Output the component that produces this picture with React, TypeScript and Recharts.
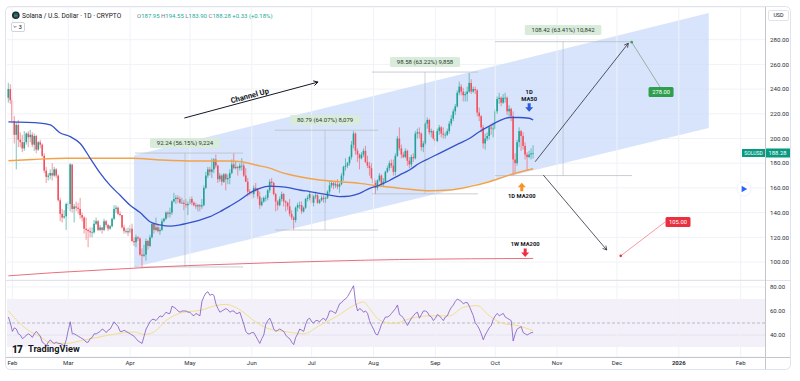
import {
  Area,
  Bar,
  CartesianGrid,
  ComposedChart,
  Line,
  ReferenceArea,
  ReferenceDot,
  ReferenceLine,
  XAxis,
  YAxis,
} from "recharts";

type Candle = [number, number, number, number]; // open, high, low, close

const FONT = "Roboto, 'Noto Sans', Arial, sans-serif";
const UP = "#22a195";
const DOWN = "#f0525f";

// day 0 = 1 Feb 2025; first candle is 30 Jan 2025
const firstDay = -2;

const janCandles: Candle[] = [
  [233, 245, 229, 240], [240, 244, 228, 231],
];
const febCandles: Candle[] = [
  [231, 233, 212, 214], [214, 218, 196, 203], [203, 213, 175, 211], [211, 215, 193, 199],
  [199, 205, 193, 197], [197, 203, 189, 192], [192, 206, 190, 197], [197, 205, 195, 204],
  [204, 206, 193, 201], [201, 207, 197, 203], [203, 205, 193, 195], [195, 204, 190, 202],
  [202, 203, 188, 191], [191, 198, 190, 197], [197, 199, 192, 195], [195, 196, 185, 186],
  [186, 188, 172, 174], [174, 177, 164, 169], [169, 172, 166, 170], [170, 175, 167, 172],
  [172, 180, 166, 170], [170, 177, 169, 175], [175, 176, 168, 170], [170, 171, 149, 150],
  [150, 152, 133, 139], [139, 143, 132, 136], [136, 142, 135, 137], [137, 148, 126, 147],
];
const marCandles: Candle[] = [
  [147, 149, 143, 147], [147, 180, 141, 179], [179, 179, 140, 143], [143, 147, 132, 145],
  [145, 149, 141, 144], [144, 148, 139, 143], [143, 152, 135, 138], [138, 140, 133, 136],
  [136, 137, 123, 127], [127, 136, 118, 126], [126, 127, 112, 125], [125, 128, 120, 124],
  [124, 128, 120, 124], [124, 134, 123, 131], [131, 136, 130, 133], [133, 134, 125, 126],
  [126, 130, 125, 128], [128, 128, 123, 126], [126, 135, 125, 133], [133, 134, 128, 130],
  [130, 131, 125, 127], [127, 130, 126, 129], [129, 136, 128, 135], [135, 146, 134, 143],
  [143, 146, 140, 144], [144, 145, 138, 139], [139, 141, 137, 138], [138, 138, 127, 128],
  [128, 130, 123, 125], [125, 127, 123, 125], [125, 128, 121, 124],
];
const aprCandles: Candle[] = [
  [124, 130, 123, 127], [127, 131, 116, 117], [117, 120, 113, 116], [116, 122, 112, 120],
  [120, 121, 117, 119], [119, 120, 105, 106], [106, 111, 95, 105], [105, 114, 104, 106],
  [106, 119, 101, 117], [117, 118, 110, 113], [113, 122, 112, 120], [120, 131, 119, 131],
  [131, 132, 123, 126], [126, 136, 125, 128], [128, 131, 124, 125], [125, 128, 122, 126],
  [126, 135, 125, 133], [133, 136, 132, 135], [135, 141, 134, 140], [140, 141, 136, 139],
  [139, 144, 136, 140], [140, 150, 138, 149], [149, 156, 148, 151], [151, 154, 147, 152],
  [152, 154, 148, 151], [151, 153, 147, 148], [148, 152, 147, 148], [148, 150, 142, 147],
  [147, 151, 144, 146], [146, 149, 138, 147],
];
const mayCandles: Candle[] = [
  [147, 153, 146, 151], [151, 153, 146, 148], [148, 149, 145, 146], [146, 148, 143, 145],
  [145, 147, 141, 146], [146, 147, 141, 145], [145, 151, 143, 146], [146, 162, 145, 160],
  [160, 173, 159, 170], [170, 177, 168, 175], [175, 177, 170, 173], [173, 184, 168, 175],
  [175, 184, 172, 183], [183, 187, 176, 178], [178, 179, 164, 167], [167, 172, 165, 170],
  [170, 171, 162, 165], [165, 172, 164, 171], [171, 172, 158, 167], [167, 171, 163, 168],
  [168, 175, 163, 172], [172, 183, 171, 179], [179, 188, 175, 176], [176, 181, 175, 177],
  [177, 178, 170, 176], [176, 180, 174, 178], [178, 184, 174, 178], [178, 180, 169, 170],
  [170, 176, 165, 165], [165, 168, 153, 157], [157, 159, 154, 156],
];
const junCandles: Candle[] = [
  [156, 157, 151, 155], [155, 162, 152, 160], [160, 164, 157, 158], [158, 160, 151, 153],
  [153, 157, 143, 146], [146, 152, 145, 149], [149, 153, 148, 152], [152, 154, 149, 152],
  [152, 159, 150, 158], [158, 167, 156, 165], [165, 168, 161, 164], [164, 165, 154, 155],
  [155, 156, 141, 149], [149, 150, 142, 146], [146, 153, 145, 151], [151, 157, 149, 155],
  [155, 156, 145, 149], [149, 150, 141, 148], [148, 149, 142, 145], [145, 151, 137, 139],
  [139, 142, 134, 136], [136, 137, 126, 134], [134, 145, 132, 144], [144, 148, 141, 146],
  [146, 149, 143, 146], [146, 149, 139, 141], [141, 145, 140, 144], [144, 152, 143, 151],
  [151, 154, 149, 152], [152, 157, 150, 155],
];
const julCandles: Candle[] = [
  [155, 156, 146, 148], [148, 154, 145, 153], [153, 157, 151, 154], [154, 155, 147, 148],
  [148, 151, 147, 150], [150, 154, 149, 152], [152, 154, 148, 151], [151, 153, 148, 152],
  [152, 158, 151, 157], [157, 166, 155, 162], [162, 166, 160, 164], [164, 165, 159, 162],
  [162, 165, 160, 163], [163, 167, 159, 161], [161, 164, 156, 163], [163, 172, 162, 170],
  [170, 178, 166, 177], [177, 184, 174, 178], [178, 181, 176, 180], [180, 186, 178, 185],
  [185, 198, 183, 195], [195, 206, 192, 204], [204, 205, 187, 190], [190, 192, 181, 187],
  [187, 188, 175, 184], [184, 189, 183, 187], [187, 192, 185, 190], [190, 194, 180, 181],
  [181, 186, 176, 178], [178, 181, 170, 176], [176, 180, 167, 168],
];
const augCandles: Candle[] = [
  [168, 170, 160, 164], [164, 166, 155, 160], [160, 167, 158, 166], [166, 172, 165, 170],
  [170, 171, 161, 163], [163, 168, 161, 165], [165, 174, 164, 173], [173, 178, 172, 176],
  [176, 182, 174, 180], [180, 183, 176, 178], [178, 183, 170, 173], [173, 188, 170, 186],
  [186, 202, 185, 200], [200, 209, 190, 192], [192, 195, 184, 187], [187, 189, 184, 185],
  [185, 192, 184, 190], [190, 191, 178, 182], [182, 185, 176, 179], [179, 187, 177, 185],
  [185, 188, 181, 184], [184, 206, 183, 204], [204, 208, 200, 205], [205, 209, 200, 204],
  [204, 205, 190, 193], [193, 198, 189, 196], [196, 213, 195, 212], [212, 217, 208, 215],
  [215, 216, 203, 205], [205, 208, 201, 206], [206, 207, 199, 200],
];
const sepCandles: Candle[] = [
  [200, 203, 194, 198], [198, 208, 197, 206], [206, 211, 203, 209], [209, 210, 201, 204],
  [204, 209, 200, 203], [203, 205, 200, 203], [203, 208, 202, 206], [206, 214, 204, 212],
  [212, 219, 210, 216], [216, 224, 214, 222], [222, 228, 219, 226], [226, 239, 225, 237],
  [237, 246, 235, 242], [242, 244, 235, 238], [238, 241, 230, 235], [235, 238, 230, 236],
  [236, 242, 230, 238], [238, 253, 237, 245], [245, 248, 236, 238], [238, 242, 237, 240],
  [240, 242, 236, 239], [239, 240, 218, 221], [221, 225, 214, 218], [218, 219, 205, 209],
  [209, 211, 192, 196], [196, 204, 191, 200], [200, 205, 198, 202], [202, 210, 199, 209],
  [209, 212, 203, 208], [208, 213, 201, 208],
];
const octCandles: Candle[] = [
  [208, 224, 207, 222], [222, 234, 220, 232], [232, 237, 228, 233], [233, 234, 226, 229],
  [229, 236, 228, 233], [233, 237, 229, 233], [233, 234, 219, 222], [222, 227, 218, 224],
  [224, 225, 214, 218], [218, 222, 170, 183], [183, 188, 171, 180], [180, 199, 178, 197],
  [197, 209, 193, 206], [206, 207, 190, 202], [202, 205, 191, 194], [194, 197, 183, 187],
  [187, 189, 174, 185], [185, 190, 184, 187], [187, 192, 183, 187.95], [187.95, 194.55, 183.9, 188.28],
];
const candleMonths = [janCandles, febCandles, marCandles, aprCandles, mayCandles, junCandles, julCandles, augCandles, sepCandles, octCandles];

// RSI(14), one value per candle
const rsiValues = [
  55, 50,
  43, 46, 45, 41, 40, 37, 38, 40, 41, 40, 38, 41, 43, 41, 39, 34, 33, 31, 34, 36, 34, 33, 34, 33, 33, 32, 31, 36,
  44, 51, 41, 41, 40, 39, 38, 37, 36, 34, 34, 37, 38, 41, 41, 42, 43, 45, 44, 42, 44, 45, 48, 51, 49, 47, 43, 43, 44, 43, 42,
  41, 40, 39, 37, 35, 34, 33, 39, 45, 48, 51, 53, 53, 52, 54, 56, 55, 57, 59, 58, 58, 64, 63, 62, 60, 59, 60, 60, 60, 59,
  59, 57, 56, 58, 57, 56, 68, 72, 75, 76, 73, 74, 73, 66, 62, 59, 60, 61, 62, 61, 59, 60, 60, 58, 58, 59, 54, 49, 43, 41, 41,
  42, 42, 39, 36, 33, 37, 40, 49, 52, 54, 50, 45, 43, 44, 45, 44, 43, 40, 38, 37, 34, 32, 38, 41, 45, 44, 43, 49, 53, 54,
  51, 50, 52, 52, 51, 53, 54, 52, 55, 60, 60, 59, 58, 62, 66, 67, 69, 70, 72, 75, 78, 81, 67, 60, 62, 61, 59, 60, 58, 52, 48,
  45, 41, 40, 44, 49, 52, 55, 55, 56, 58, 60, 62, 65, 57, 56, 54, 51, 48, 51, 54, 56, 58, 59, 54, 57, 60, 60, 59, 56, 55, 52,
  54, 57, 56, 54, 52, 55, 56, 60, 63, 65, 68, 70, 69, 68, 66, 67, 67, 64, 60, 56, 50, 48, 45, 41, 36, 40, 43, 46, 48, 53,
  56, 58, 56, 57, 58, 55, 54, 53, 52, 35, 41, 45, 46, 47, 42, 41, 40, 41, 42, 42,
];
const rsiMaDays = [-2, 7, 14, 19, 27, 35, 44, 52, 61, 66, 71, 77, 86, 94, 102, 107, 114, 121, 128, 138, 146, 154, 163, 171, 176, 179, 184, 191, 199, 209, 219, 226, 233, 239, 246, 253, 261];
const rsiMaValues = [60, 45, 38.5, 33.5, 33, 35.5, 38.5, 41, 42.5, 40.5, 42.5, 52, 59, 60.5, 64.5, 65.5, 61, 52, 45.5, 42.5, 41, 48, 56, 64.5, 67.5, 62, 52.5, 49.5, 53.5, 56, 56, 63, 64.5, 56, 49.5, 48, 43.5];

const ma50Days = [-2, 14, 19, 24, 29, 34, 39, 44, 49, 54, 59, 64, 69, 74, 79, 84, 89, 94, 99, 104, 109, 114, 119, 124, 129, 134, 139, 144, 149, 154, 159, 164, 169, 174, 179, 184, 189, 194, 199, 204, 209, 214, 219, 224, 229, 234, 239, 244, 249, 254, 259, 261];
const ma50Values = [213.5, 212.5, 211, 204.5, 201.5, 196, 184, 172, 162, 154, 146, 140, 132.6, 130, 129, 130, 131.8, 134, 136.7, 140.7, 145.3, 150.2, 155.9, 159.7, 161.5, 161, 160, 158.3, 157, 155.6, 154.2, 153, 153.4, 155.6, 159.7, 162.3, 166, 170.4, 174.5, 180, 184, 188, 192, 196, 200, 205.5, 210, 214.2, 217, 217, 216.4, 215];
const ma200Days = [-2, 10, 27, 44, 60, 75, 92, 109, 115, 122, 129, 134, 144, 154, 164, 174, 184, 194, 199, 209, 219, 229, 239, 249, 261];
const ma200Values = [182, 183, 184, 184, 184, 182.6, 181.8, 181.8, 181.2, 178.5, 176, 173, 169, 166.4, 165, 163.7, 161.5, 159.7, 158.9, 157.7, 158.3, 161, 165, 170.4, 175.5];
const wma200Days = [-2, 20, 44, 70, 100, 130, 160, 194, 230, 261];
const wma200Values = [88.8, 91.3, 93.5, 95.8, 97.8, 99.4, 100.8, 102, 102.6, 102.9];

// ascending channel
const channelDays = [61, 349];
const channelLow = [95.8, 208.6];
const channelHigh = [186.4, 301.7];

// date & price range tools
const measureStart = [61.4, 131.6, 180.2, 241.9];
const measureEnd = [115.6, 183.3, 233.4, 310.6];
const measureMid = [86.5, 156.7, 206.8, 276];
const measureLow = [96, 125.9, 155.2, 170];
const measureHigh = [188.2, 206.7, 253.8, 278.4];
const measureLabelPrice = [196.4, 215, 262, 287.9];
const measureText = ["92.24 (56.15%) 9,224", "80.79 (64.07%) 8,079", "98.58 (63.22%) 9,858", "108.42 (63.41%) 10,842"];

const channelArrow = [{ x: 86.2, y: 216.6 }, { x: 153.2, y: 245.7 }];
const channelText = { d: 119.3, price: 232.6, text: "Channel Up" };
const upArrow = [{ x: 262, y: 181.2 }, { x: 308.7, y: 277.1 }];
const downArrow = [{ x: 266.1, y: 170.4 }, { x: 297.9, y: 109.7 }];
const targetHigh = { d: 310.4, price: 278, labelD: 325.1, labelPrice: 237.7, linkD: 324.6, linkPrice: 241.7, text: "278.00" };
const targetLow = { d: 304.9, price: 105, labelD: 333.6, labelPrice: 132.4, linkD: 327.1, linkPrice: 132.4, text: "105.00" };
const maTags = [
  { d: 259, price: 232.2, lines: ["1D", "MA50"], color: "#2f5bd9", dir: "down" },
  { d: 255.3, price: 153.7, lines: ["1D MA200"], color: "#f7931e", dir: "up" },
  { d: 257, price: 114.6, lines: ["1W MA200"], color: "#ec2f45", dir: "down" },
];
const lastPrice = 188.28;

const monthDays = [0, 28, 59, 89, 120, 150, 181, 212, 242, 273, 303, 334, 365];
const monthLabels = ["Feb", "Mar", "Apr", "May", "Jun", "Jul", "Aug", "Sep", "Oct", "Nov", "Dec", "2026", "Feb"];
const priceTicks = [100, 120, 140, 160, 180, 200, 220, 240, 260, 280];
const rsiTicks = [40, 60, 80];

const xDomain: [number, number] = [-2.7, 377.2];
const priceDomain: [number, number] = [85.43, 306.48];
const rsiDomain: [number, number] = [21.7, 85.8];

type Row = { d: number; [k: string]: any };

function buildRows() {
  const map = new Map<number, Row>();
  const at = (d: number) => {
    let r = map.get(d);
    if (!r) {
      r = { d };
      map.set(d, r);
    }
    return r;
  };
  candleMonths.flat().forEach(([o, h, l, c], i) => {
    const r = at(firstDay + i);
    r.o = o;
    r.h = h;
    r.l = l;
    r.c = c;
    r.range = [l, h];
    r.rsi = rsiValues[i];
  });
  ma50Days.forEach((d, i) => (at(d).ma50 = ma50Values[i]));
  ma200Days.forEach((d, i) => (at(d).ma200 = ma200Values[i]));
  wma200Days.forEach((d, i) => (at(d).wma200 = wma200Values[i]));
  rsiMaDays.forEach((d, i) => (at(d).rsiMa = rsiMaValues[i]));
  channelDays.forEach((d, i) => (at(d).channel = [channelLow[i], channelHigh[i]]));
  return [...map.values()].sort((a, b) => a.d - b.d);
}

const rows = buildRows();

function CandleShape(props: any) {
  const { x, y, width, height, payload } = props;
  if (!payload || payload.o === undefined || !Number.isFinite(y)) return <g />;
  const { o, h, l, c } = payload;
  const top = Math.min(y, y + height);
  const span = Math.abs(height);
  const k = h > l ? span / (h - l) : 0;
  const yO = top + (h - o) * k;
  const yC = top + (h - c) * k;
  const cx = x + width / 2;
  const color = c >= o ? UP : DOWN;
  return (
    <g>
      <line x1={cx} x2={cx} y1={top} y2={top + span} stroke={color} strokeWidth={0.6} />
      <rect x={cx - 0.8} y={Math.min(yO, yC)} width={1.6} height={Math.max(0.7, Math.abs(yO - yC))} fill={color} />
    </g>
  );
}

const arrowShape = (color: string, w: number, head: number) => (p: any) => {
  const { x1, y1, x2, y2 } = p;
  const a = Math.atan2(y2 - y1, x2 - x1);
  const ax = x2 - head * Math.cos(a - 0.5);
  const ay = y2 - head * Math.sin(a - 0.5);
  const bx = x2 - head * Math.cos(a + 0.5);
  const by = y2 - head * Math.sin(a + 0.5);
  return (
    <g>
      <line x1={x1} y1={y1} x2={x2} y2={y2} stroke={color} strokeWidth={w} />
      <polyline points={`${ax},${ay} ${x2},${y2} ${bx},${by}`} fill="none" stroke={color} strokeWidth={w} />
    </g>
  );
};

const measureLabel = (text: string) => (p: any) => {
  const w = text.length * 3.3 + 4;
  return (
    <g>
      <rect x={p.cx - w / 2} y={p.cy - 5} width={w} height={10} rx={1.5} fill="#d9ebda" />
      <text x={p.cx} y={p.cy + 2.1} textAnchor="middle" fontSize={6} fill="#2a3a2e">
        {text}
      </text>
    </g>
  );
};

const boxLabel = (text: string, bg: string) => (p: any) => (
  <g>
    <rect x={p.cx - 12.5} y={p.cy - 5} width={25} height={10} rx={1.5} fill={bg} />
    <text x={p.cx} y={p.cy + 2.1} textAnchor="middle" fontSize={5.8} fill="#fff">
      {text}
    </text>
  </g>
);

function blockArrow(cx: number, top: number, color: string, down: boolean) {
  const pts = down
    ? [[cx - 1.5, top], [cx + 1.5, top], [cx + 1.5, top + 4], [cx + 4, top + 4], [cx, top + 8.5], [cx - 4, top + 4], [cx - 1.5, top + 4]]
    : [[cx, top], [cx + 4, top + 4.5], [cx + 1.5, top + 4.5], [cx + 1.5, top + 8.5], [cx - 1.5, top + 8.5], [cx - 1.5, top + 4.5], [cx - 4, top + 4.5]];
  return <polygon points={pts.map((q) => q.join(",")).join(" ")} fill={color} />;
}

const maTagShape = (tag: (typeof maTags)[number]) => (p: any) => {
  const { cx, cy } = p;
  const down = tag.dir === "down";
  const textEls = tag.lines.map((t, i) => (
    <text key={t} x={cx} y={cy + 2 - (tag.lines.length - 1 - i) * 6.6} textAnchor="middle" fontSize={5.8} fontWeight={700} fill="#131722">
      {t}
    </text>
  ));
  return (
    <g>
      {textEls}
      {down ? blockArrow(cx, cy + 4.5, tag.color, true) : blockArrow(cx, cy - 13, tag.color, false)}
    </g>
  );
};

const PriceTag = (p: any) => {
  const vb = p.viewBox;
  const right = vb.x + vb.width;
  const y = vb.y;
  return (
    <g>
      <rect x={right - 23} y={y - 4} width={23} height={8} fill="#089981" />
      <text x={right - 11.5} y={y + 1.8} textAnchor="middle" fontSize={5} fill="#fff">
        SOLUSD
      </text>
      <rect x={right} y={y - 4.5} width={25} height={9} fill="#089981" />
      <text x={right + 12.5} y={y + 2} textAnchor="middle" fontSize={5.8} fill="#fff">
        {lastPrice.toFixed(2)}
      </text>
    </g>
  );
};

const MEASURE = "#b4b7bf";

function PriceChart() {
  return (
    <ComposedChart width={800} height={280} data={rows} margin={{ top: 7, right: 10, bottom: 0, left: 7 }}>
      <CartesianGrid vertical={false} stroke="#eff2f7" />
      {monthDays.map((d) => (
        <ReferenceLine key={`v${d}`} x={d} stroke="#eff2f7" />
      ))}
      <XAxis type="number" dataKey="d" domain={xDomain} hide allowDataOverflow />
      <YAxis
        orientation="right"
        width={25}
        domain={priceDomain}
        ticks={priceTicks}
        allowDataOverflow
        axisLine={false}
        tickLine={false}
        tickSize={0}
        tickMargin={5}
        tick={{ fontSize: 6.2, fill: "#2a2e39" }}
        tickFormatter={(v: number) => v.toFixed(2)}
      />
      <Area dataKey="channel" type="linear" stroke="none" fill="#c9dbfa" fillOpacity={0.75} connectNulls isAnimationActive={false} />

      {measureStart.map((s, i) => (
        <ReferenceLine key={`mb${i}`} segment={[{ x: s, y: measureLow[i] }, { x: measureEnd[i], y: measureLow[i] }]} stroke={MEASURE} strokeWidth={0.7} />
      ))}
      {measureStart.map((s, i) => (
        <ReferenceLine key={`mt${i}`} segment={[{ x: s, y: measureHigh[i] }, { x: measureEnd[i], y: measureHigh[i] }]} stroke={MEASURE} strokeWidth={0.7} />
      ))}
      {measureMid.map((m, i) => (
        <ReferenceLine key={`mv${i}`} segment={[{ x: m, y: measureLow[i] }, { x: m, y: measureHigh[i] }]} stroke={MEASURE} strokeWidth={0.6} />
      ))}

      <Line dataKey="wma200" type="monotone" stroke="#e8707c" strokeWidth={1} dot={false} activeDot={false} connectNulls isAnimationActive={false} />
      <Line dataKey="ma200" type="monotone" stroke="#f4a24a" strokeWidth={1.4} dot={false} activeDot={false} connectNulls isAnimationActive={false} />
      <Bar dataKey="range" shape={CandleShape} barSize={2} isAnimationActive={false} />
      <Line dataKey="ma50" type="monotone" stroke="#3552c9" strokeWidth={1.3} dot={false} activeDot={false} connectNulls isAnimationActive={false} />

      <ReferenceLine y={lastPrice} stroke="none" label={PriceTag} />

      {measureMid.map((m, i) => (
        <ReferenceDot key={`ml${i}`} x={m} y={measureLabelPrice[i]} r={1} shape={measureLabel(measureText[i])} />
      ))}

      <ReferenceLine segment={channelArrow} shape={arrowShape("#131722", 1, 5)} />
      <ReferenceDot
        x={channelText.d}
        y={channelText.price}
        r={1}
        shape={(p: any) => (
          <text x={p.cx} y={p.cy} textAnchor="middle" fontSize={7.6} fontWeight={700} fill="#131722" transform={`rotate(-15 ${p.cx} ${p.cy})`}>
            {channelText.text}
          </text>
        )}
      />
      <ReferenceLine segment={upArrow} shape={arrowShape("#2a2e39", 0.8, 4.5)} />
      <ReferenceLine segment={downArrow} shape={arrowShape("#2a2e39", 0.8, 4.5)} />

      <ReferenceLine segment={[{ x: targetHigh.d, y: targetHigh.price }, { x: targetHigh.linkD, y: targetHigh.linkPrice }]} stroke="#7d9a86" strokeWidth={0.7} />
      <ReferenceDot x={targetHigh.d} y={targetHigh.price} r={1.3} fill="#3aa655" stroke="none" />
      <ReferenceDot x={targetHigh.labelD} y={targetHigh.labelPrice} r={1} shape={boxLabel(targetHigh.text, "#2f9e4d")} />

      <ReferenceLine segment={[{ x: targetLow.d, y: targetLow.price }, { x: targetLow.linkD, y: targetLow.linkPrice }]} stroke="#f0707e" strokeWidth={0.7} />
      <ReferenceDot x={targetLow.d} y={targetLow.price} r={1.3} fill="#e8303f" stroke="none" />
      <ReferenceDot x={targetLow.labelD} y={targetLow.labelPrice} r={1} shape={boxLabel(targetLow.text, "#e8303f")} />

      {maTags.map((t) => (
        <ReferenceDot key={t.lines.join()} x={t.d} y={t.price} r={1} shape={maTagShape(t)} />
      ))}
    </ComposedChart>
  );
}

const TimeTick = (p: any) => {
  const label = monthLabels[p.index] ?? "";
  return (
    <text x={p.x} y={p.y} dy="0.71em" textAnchor="middle" fontSize={6} fontWeight={label === "2026" ? 700 : 400} fill="#2a2e39">
      {label}
    </text>
  );
};

function RsiChart() {
  return (
    <ComposedChart width={800} height={90} data={rows} margin={{ top: 0, right: 10, bottom: 0, left: 7 }}>
      <ReferenceArea y1={30} y2={70} fill="#7e57c2" fillOpacity={0.09} stroke="none" />
      <CartesianGrid vertical={false} stroke="#eff2f7" />
      {monthDays.map((d) => (
        <ReferenceLine key={`r${d}`} x={d} stroke="#eff2f7" />
      ))}
      <ReferenceLine y={50} stroke="#9598a1" strokeDasharray="3 2" strokeWidth={0.6} />
      <XAxis
        type="number"
        dataKey="d"
        domain={xDomain}
        ticks={monthDays}
        interval={0}
        allowDataOverflow
        height={13}
        tickSize={0}
        tickMargin={4}
        axisLine={false}
        tickLine={false}
        tick={TimeTick}
      />
      <YAxis
        orientation="right"
        width={25}
        domain={rsiDomain}
        ticks={rsiTicks}
        allowDataOverflow
        axisLine={false}
        tickLine={false}
        tickSize={0}
        tickMargin={5}
        tick={{ fontSize: 6, fill: "#2a2e39" }}
        tickFormatter={(v: number) => v.toFixed(2)}
      />
      <Line dataKey="rsiMa" type="monotone" stroke="#f1df8e" strokeWidth={1} dot={false} activeDot={false} connectNulls isAnimationActive={false} />
      <Line dataKey="rsi" type="linear" stroke="#7e57c2" strokeWidth={0.8} dot={false} activeDot={false} connectNulls isAnimationActive={false} />
    </ComposedChart>
  );
}

function Overlay() {
  return (
    <svg width={800} height={381} style={{ position: "absolute", left: 0, top: 0, pointerEvents: "none" }}>
      <rect x={5.5} y={6.5} width={785} height={363} rx={5} fill="none" stroke="#e0e3eb" />
      <line x1={6} x2={790} y1={280.5} y2={280.5} stroke="#e0e3eb" />
      <line x1={6} x2={790} y1={357.5} y2={357.5} stroke="#c3c6ce" />
      <line x1={765.5} x2={765.5} y1={7} y2={369} stroke="#c3c6ce" />

      <circle cx={15.8} cy={15.3} r={3.8} fill="#1c2533" />
      <path d="M13.8 14 h4 M13.8 15.4 h4 M13.8 16.8 h4" stroke="#3fd6a8" strokeWidth={0.6} />
      <text x={22} y={17.6} fontSize={6.6} fill="#131722">
        Solana / U.S. Dollar · 1D · CRYPTO
      </text>
      <text x={137} y={17.6} fontSize={6} fill="#22ab94">
        <tspan fill="#787b86">O</tspan>187.95 <tspan fill="#787b86">H</tspan>194.55 <tspan fill="#787b86">L</tspan>183.90{" "}
        <tspan fill="#787b86">C</tspan>188.28 +0.33 (+0.18%)
      </text>
      <rect x={11.5} y={22.5} width={13} height={9} rx={1.5} fill="#fff" stroke="#d1d4dc" />
      <path d="M13.6 26 l1.4 1.4 l1.4 -1.4" fill="none" stroke="#131722" strokeWidth={0.6} />
      <text x={18.5} y={29.2} fontSize={6} fill="#131722">
        3
      </text>

      <rect x={768.5} y={10.5} width={20} height={10} rx={1.5} fill="#fff" stroke="#e0e3eb" />
      <text x={778.5} y={17.4} fontSize={5.4} textAnchor="middle" fill="#131722">
        USD
      </text>

      <circle cx={744} cy={189} r={7} fill="#fff" stroke="#f0f3fa" />
      <polygon points="741.6,185.8 747.2,189 741.6,192.2" fill="#2962ff" />

      <text x={12} y={352.5} fontSize={10} fontWeight={900} fill="#131722" letterSpacing={-0.8}>
        17
      </text>
      <text x={28} y={352.3} fontSize={9.2} fontWeight={700} fill="#131722">
        TradingView
      </text>
    </svg>
  );
}

export default function App() {
  return (
    <div style={{ position: "fixed", left: 0, top: 0, width: 800, height: 381, background: "#fff", overflow: "hidden", fontFamily: FONT }}>
      <div style={{ position: "absolute", left: 0, top: 0 }}>
        <PriceChart />
      </div>
      <div style={{ position: "absolute", left: 0, top: 280 }}>
        <RsiChart />
      </div>
      <Overlay />
    </div>
  );
}
